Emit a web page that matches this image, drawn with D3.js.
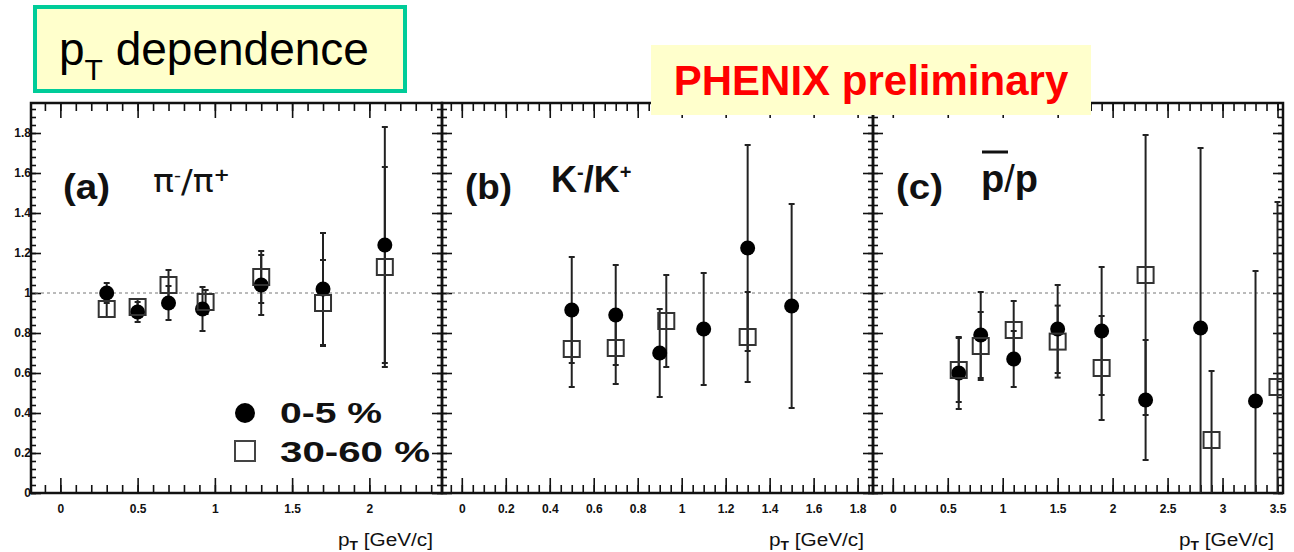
<!DOCTYPE html>
<html>
<head>
<meta charset="utf-8">
<script src="https://cdn.jsdelivr.net/npm/d3@7"></script>
<style>
  html, body { margin: 0; padding: 0; background: #fff; }
  svg { display: block; font-family: "Liberation Sans", Arial, sans-serif; }
</style>
</head>
<body>
<svg id="chart" width="1294" height="552"></svg>
<script>
// ---- values: ratio of negative to positive particle yields vs pT ----
// (a) pi-/pi+
const piPtCentral   = [0.30, 0.50, 0.70, 0.92, 1.30, 1.70, 2.10];
const piRatioCentral = [1.00, 0.905, 0.95, 0.92, 1.04, 1.02, 1.24];
const piErrCentral  = [0.05, 0.05, 0.085, 0.11, 0.15, 0.28, 0.59];
const piPtPeriph    = [0.30, 0.50, 0.70, 0.94, 1.30, 1.70, 2.10];
const piRatioPeriph = [0.92, 0.93, 1.04, 0.955, 1.08, 0.95, 1.13];
const piErrPeriph   = [0.04, 0.04, 0.075, 0.06, 0.13, 0.215, 0.50];

// (b) K-/K+
const kPtCentral    = [0.50, 0.70, 0.90, 1.10, 1.30, 1.50];
const kRatioCentral = [0.915, 0.89, 0.70, 0.82, 1.225, 0.935];
const kErrCentral   = [0.265, 0.25, 0.22, 0.28, 0.515, 0.51];
const kPtPeriph     = [0.50, 0.70, 0.93, 1.30];
const kRatioPeriph  = [0.72, 0.725, 0.86, 0.78];
const kErrPeriph    = [0.19, 0.18, 0.23, 0.225];

// (c) pbar/p
const pPtCentral    = [0.60, 0.80, 1.10, 1.50, 1.90, 2.30, 2.80, 3.30];
const pRatioCentral = [0.60, 0.79, 0.67, 0.82, 0.81, 0.465, 0.825, 0.46];
const pErrCentral   = [0.18, 0.215, 0.14, 0.22, 0.32, 0.30, 0.90, 0.65];
const pPtPeriph     = [0.60, 0.80, 1.10, 1.50, 1.90, 2.30, 2.90, 3.50];
const pRatioPeriph  = [0.615, 0.735, 0.815, 0.757, 0.625, 1.09, 0.265, 0.53];
const pErrPeriph    = [0.16, 0.17, 0.145, 0.18, 0.26, 0.70, 0.345, 0.925];

// ---- axis ticks ----
const yTicks = [0, 0.2, 0.4, 0.6, 0.8, 1, 1.2, 1.4, 1.6, 1.8];
const yTickLabels = ["0", "0.2", "0.4", "0.6", "0.8", "1", "1.2", "1.4", "1.6", "1.8"];
const xTicksA = [0, 0.5, 1, 1.5, 2];
const xTickLabelsA = ["0", "0.5", "1", "1.5", "2"];
const xTicksB = [0, 0.2, 0.4, 0.6, 0.8, 1, 1.2, 1.4, 1.6, 1.8];
const xTickLabelsB = ["0", "0.2", "0.4", "0.6", "0.8", "1", "1.2", "1.4", "1.6", "1.8"];
const xTicksC = [0, 0.5, 1, 1.5, 2, 2.5, 3, 3.5];
const xTickLabelsC = ["0", "0.5", "1", "1.5", "2", "2.5", "3", "3.5"];
const legendLabels = ["0-5 %", "30-60 %"];

const svg = d3.select("#chart");

// shared vertical layout
const frameTop = 103, frameBottom = 493;
const y = d3.scaleLinear().domain([0, 1.95]).range([frameBottom, frameTop]);
const yMinor = d3.range(0, 1.95, 0.04).map(v => +v.toFixed(3));

const panels = [
  { key: "a", range: [31, 442], domain: [-0.19, 2.47], ticks: xTicksA, labels: xTickLabelsA, minor: 0.1,
    central: [piPtCentral, piRatioCentral, piErrCentral], periph: [piPtPeriph, piRatioPeriph, piErrPeriph] },
  { key: "b", range: [442, 873], domain: [-0.09, 1.87], ticks: xTicksB, labels: xTickLabelsB, minor: 0.05,
    central: [kPtCentral, kRatioCentral, kErrCentral], periph: [kPtPeriph, kRatioPeriph, kErrPeriph] },
  { key: "c", range: [873, 1283], domain: [-0.18, 3.55], ticks: xTicksC, labels: xTickLabelsC, minor: 0.1,
    central: [pPtCentral, pRatioCentral, pErrCentral], periph: [pPtPeriph, pRatioPeriph, pErrPeriph] }
];

const defs = svg.append("defs");

panels.forEach((p, i) => {
  const x = d3.scaleLinear().domain(p.domain).range(p.range);
  const g = svg.append("g").attr("class", "panel-" + p.key);
  const [x0, x1] = p.range;

  defs.append("clipPath").attr("id", "clip-" + p.key)
    .append("rect").attr("x", x0).attr("y", frameTop).attr("width", x1 - x0).attr("height", frameBottom - frameTop);

  const xMinor = d3.range(Math.ceil(p.domain[0] / p.minor) * p.minor, p.domain[1], p.minor)
    .map(v => +v.toFixed(3));

  // bottom axis: minor + major ticks pointing up, labels below
  g.append("g").attr("transform", `translate(0,${frameBottom})`)
    .call(d3.axisBottom(x).tickValues(xMinor).tickSize(-8).tickFormat(""));
  g.append("g").attr("class", "xlab").attr("transform", `translate(0,${frameBottom})`)
    .call(d3.axisBottom(x).tickValues(p.ticks).tickSize(-15).tickPadding(11)
      .tickFormat((d, k) => p.labels[k]));
  // top axis mirror
  g.append("g").attr("transform", `translate(0,${frameTop})`)
    .call(d3.axisTop(x).tickValues(xMinor).tickSize(-8).tickFormat(""));
  g.append("g").attr("transform", `translate(0,${frameTop})`)
    .call(d3.axisTop(x).tickValues(p.ticks).tickSize(-15).tickFormat(""));

  // left axis
  g.append("g").attr("transform", `translate(${x0},0)`)
    .call(d3.axisLeft(y).tickValues(yMinor).tickSize(-5).tickFormat(""));
  g.append("g").attr("class", "ylab").attr("transform", `translate(${x0},0)`)
    .call(d3.axisLeft(y).tickValues(yTicks).tickSize(-10).tickPadding(0)
      .tickFormat((d, k) => i === 0 ? yTickLabels[k] : ""));
  // right axis
  g.append("g").attr("transform", `translate(${x1},0)`)
    .call(d3.axisRight(y).tickValues(yMinor).tickSize(-5).tickFormat(""));
  g.append("g").attr("transform", `translate(${x1},0)`)
    .call(d3.axisRight(y).tickValues(yTicks).tickSize(-10).tickFormat(""));

  // reference line at ratio = 1
  g.append("line")
    .attr("x1", x0 + 4).attr("x2", x1 - 10)
    .attr("y1", y(1)).attr("y2", y(1))
    .attr("stroke", "#777").attr("stroke-width", 1).attr("stroke-dasharray", "3,3");

  // frame
  g.append("rect").attr("x", x0).attr("y", frameTop).attr("width", x1 - x0).attr("height", frameBottom - frameTop)
    .attr("fill", "none").attr("stroke", "#111").attr("stroke-width", 2.5);

  // axis title
  const t = g.append("text").attr("x", x1 - 104).attr("y", 546)
    .attr("font-size", 18).attr("fill", "#111")
    .attr("textLength", 95).attr("lengthAdjust", "spacingAndGlyphs");
  t.append("tspan").text("p");
  t.append("tspan").attr("font-size", 12).attr("font-weight", "bold").attr("dy", 4).text("T");
  t.append("tspan").attr("dy", -4).text(" [GeV/c]");

  // data
  const plot = g.append("g").attr("clip-path", `url(#clip-${p.key})`);
  const toPts = s => s[0].map((v, k) => ({ pt: v, r: s[1][k], e: s[2][k] }));
  const cPts = toPts(p.central), sPts = toPts(p.periph);

  [cPts, sPts].forEach(pts => {
    const eb = plot.append("g").selectAll("g").data(pts).join("g")
      .attr("stroke", "#222").attr("stroke-width", 2);
    eb.append("line").attr("x1", d => x(d.pt)).attr("x2", d => x(d.pt))
      .attr("y1", d => y(d.r - d.e)).attr("y2", d => y(d.r + d.e));
    eb.append("line").attr("x1", d => x(d.pt) - 3).attr("x2", d => x(d.pt) + 3)
      .attr("y1", d => y(d.r + d.e)).attr("y2", d => y(d.r + d.e));
    eb.append("line").attr("x1", d => x(d.pt) - 3).attr("x2", d => x(d.pt) + 3)
      .attr("y1", d => y(d.r - d.e)).attr("y2", d => y(d.r - d.e));
  });

  plot.append("g").selectAll("circle").data(cPts).join("circle")
    .attr("cx", d => x(d.pt)).attr("cy", d => y(d.r)).attr("r", 7.5).attr("fill", "#000");
  plot.append("g").selectAll("rect").data(sPts).join("rect")
    .attr("x", d => x(d.pt) - 8).attr("y", d => y(d.r) - 8).attr("width", 16).attr("height", 16)
    .attr("fill", "none").attr("stroke", "#333").attr("stroke-width", 2);
});

// style axis elements
svg.selectAll(".domain").remove();
svg.selectAll(".tick line").attr("stroke", "#111").attr("stroke-width", 1.6);
svg.selectAll(".tick text").attr("font-size", 12).attr("font-weight", "bold").attr("fill", "#111")
  .attr("font-family", "'Liberation Sans', Arial, sans-serif");

// panel annotations
function label(xp, txt) {
  svg.append("text").attr("x", xp).attr("y", 199).attr("font-size", 35).attr("font-weight", "bold")
    .attr("textLength", 47).attr("lengthAdjust", "spacingAndGlyphs")
    .attr("fill", "#111").text(txt);
}
label(63, "(a)");
label(465, "(b)");
label(896, "(c)");

const pi = svg.append("text").attr("x", 153).attr("y", 192).attr("font-size", 32).attr("fill", "#111")
  .attr("font-family", "'DejaVu Sans', sans-serif")
  .attr("textLength", 77).attr("lengthAdjust", "spacingAndGlyphs");
pi.append("tspan").text("π");
pi.append("tspan").attr("font-size", 18).attr("dy", -11).text("-");
pi.append("tspan").attr("dy", 11).text("/π");
pi.append("tspan").attr("font-size", 18).attr("font-weight", "bold").attr("dy", -11).text("+");

const kk = svg.append("text").attr("x", 551).attr("y", 192).attr("font-size", 36).attr("font-weight", "bold").attr("fill", "#111");
kk.append("tspan").text("K");
kk.append("tspan").attr("font-size", 20).attr("dy", -13).text("-");
kk.append("tspan").attr("dy", 13).text("/K");
kk.append("tspan").attr("font-size", 20).attr("dy", -13).text("+");

const pp = svg.append("text").attr("x", 981).attr("y", 192).attr("font-size", 38).attr("font-weight", "bold").attr("fill", "#111");
pp.append("tspan").text("p");
pp.append("tspan").attr("font-weight", "normal").text("/");
pp.append("tspan").text("p");
svg.append("line").attr("x1", 982).attr("x2", 1008).attr("y1", 152).attr("y2", 152)
  .attr("stroke", "#111").attr("stroke-width", 3);

// legend
svg.append("circle").attr("cx", 245).attr("cy", 413).attr("r", 10).attr("fill", "#000");
svg.append("rect").attr("x", 235).attr("y", 441).attr("width", 20).attr("height", 20)
  .attr("fill", "none").attr("stroke", "#444").attr("stroke-width", 2);
svg.append("text").attr("x", 280).attr("y", 423).attr("font-size", 29).attr("font-weight", "bold")
  .attr("textLength", 102).attr("lengthAdjust", "spacingAndGlyphs").attr("fill", "#111").text(legendLabels[0]);
svg.append("text").attr("x", 280).attr("y", 462).attr("font-size", 29).attr("font-weight", "bold")
  .attr("textLength", 150).attr("lengthAdjust", "spacingAndGlyphs").attr("fill", "#111").text(legendLabels[1]);

// title box
svg.append("rect").attr("x", 35).attr("y", 7).attr("width", 370).attr("height", 84)
  .attr("fill", "#ffffcc").attr("stroke", "#00cc99").attr("stroke-width", 4);
const tt = svg.append("text").attr("x", 59).attr("y", 65).attr("font-size", 46).attr("fill", "#000");
tt.append("tspan").text("p");
tt.append("tspan").attr("font-size", 30).attr("dy", 15).text("T");
tt.append("tspan").attr("dy", -15).text(" dependence");

// preliminary banner
svg.append("rect").attr("x", 651).attr("y", 45).attr("width", 440).attr("height", 70).attr("fill", "#ffffcc");
svg.append("text").attr("x", 871).attr("y", 95).attr("text-anchor", "middle").attr("font-size", 42)
  .attr("font-weight", "bold").attr("fill", "#ff0000").text("PHENIX preliminary");
</script>
</body>
</html>
